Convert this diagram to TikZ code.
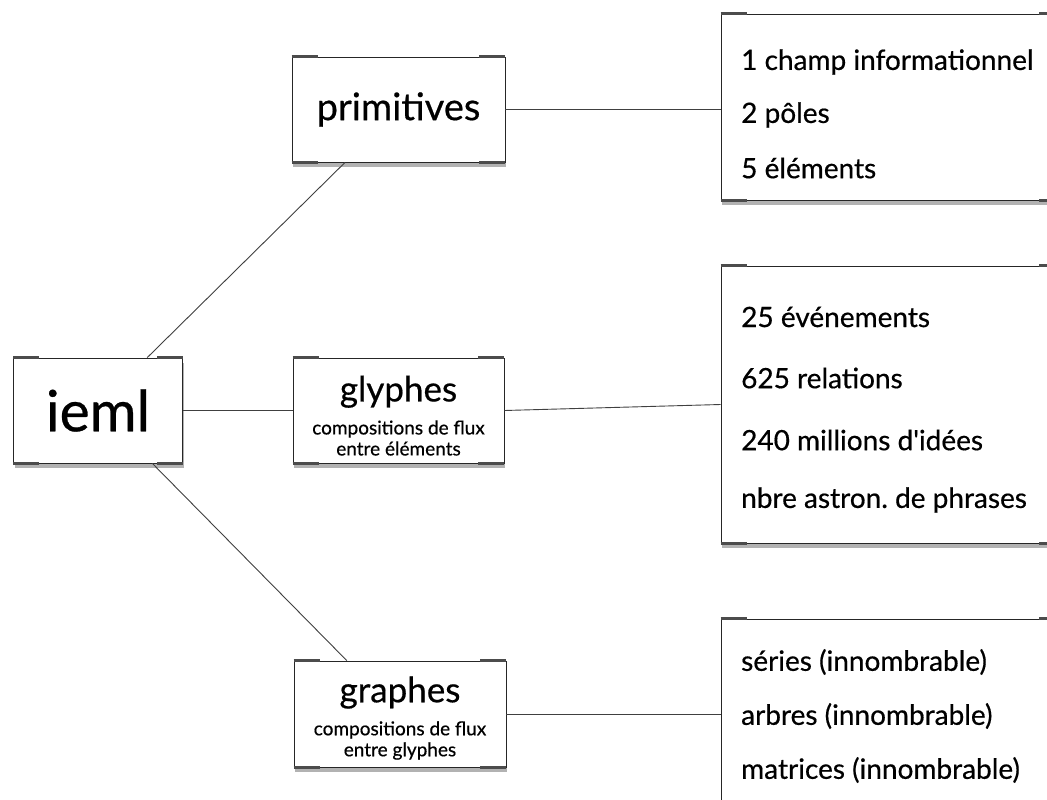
\documentclass[tikz,border=0pt]{standalone}
\usepackage{fontspec}
\setmainfont{Lato}[FakeBold=0.5]
\usetikzlibrary{positioning, shadows, calc}

\tikzset{
  box/.style={draw=black!85, line width=0.8pt, fill=white, inner sep=0pt,
    drop shadow={shadow xshift=1pt, shadow yshift=-5pt, opacity=0.3, fill=black}},
  tick/.style={draw=black!70, line width=2.6pt},
  link/.style={draw=black!75, line width=0.9pt},
  item/.style={anchor=west, inner sep=0pt, font=\fontsize{28}{32}\selectfont},
  sub/.style={font=\fontsize{19}{21}\selectfont},
}

\begin{document}
\frenchspacing
\begin{tikzpicture}[x=1pt, y=-1pt]
\clip (0,0) rectangle (1047,800);
\fill[white] (0,0) rectangle (1047,800);

% tree nodes
\node[box, minimum width=169pt, minimum height=105pt, font=\fontsize{57}{60}\selectfont] (ieml) at (98,410.5) {ieml};
\node[box, minimum width=213pt, minimum height=105pt, font=\fontsize{38}{40}\selectfont] (prim) at (398.5,109.5) {primitives};
\node[box, minimum width=211pt, minimum height=105pt, align=center, sub] (glyph) at (398.5,410.5)
  {{\fontsize{35}{38}\selectfont\rule{0pt}{36pt}glyphes}\\[12pt] compositions de flux\\ entre éléments};
\node[box, minimum width=212pt, minimum height=106pt, align=center, sub] (graph) at (400,714)
  {{\fontsize{35}{38}\selectfont\rule{0pt}{34pt}graphes}\\[12pt] compositions de flux\\ entre glyphes};

% lists (cut by the right and bottom edges)
\node[box, minimum width=344pt, minimum height=186pt] (primlist) at (893,107) {};
\node[box, minimum width=344pt, minimum height=277pt] (glyphlist) at (893,404.5) {};
\node[box, minimum width=344pt, minimum height=186pt] (graphlist) at (893,712) {};

\node[item] (p1) at (741,62) {1 champ informationnel};
\node[item] (p2) at (741,115) {2 pôles};
\node[item] (p3) at (741,168) {5 éléments};

\node[item] (g1) at (741,317) {25 événements};
\node[item] (g2) at (741,378) {625 relations};
\node[item] (g3) at (741,440) {240 millions d\textquotesingle idées};
\node[item] (g4) at (741,500) {nbre astron. de phrases};

\node[item] (r1) at (741,662) {séries (innombrable)};
\node[item] (r2) at (741,716) {arbres (innombrable)};
\node[item] (r3) at (741,770) {matrices (innombrable)};

% corner marks
\foreach \n in {ieml,prim,glyph,graph,primlist,glyphlist,graphlist} {
  \draw[tick] (\n.north west) -- ++(26,0);
  \draw[tick] (\n.north east) -- ++(-26,0);
  \draw[tick] (\n.south west) -- ++(26,0);
  \draw[tick] (\n.south east) -- ++(-26,0);
}

% connectors
\draw[link] ($(ieml.north west)!0.79!(ieml.north east)$) -- ($(prim.south west)!0.25!(prim.south east)$);
\draw[link] (ieml.east) -- (glyph.west);
\draw[link] ($(ieml.south west)!0.82!(ieml.south east)$) -- ($(graph.north west)!0.25!(graph.north east)$);
\draw[link] (prim.east) -- (prim.east -| primlist.west);
\draw[link] (glyph.east) -- (glyphlist.west);
\draw[link] (graph.east) -- (graph.east -| graphlist.west);

\end{tikzpicture}
\end{document}
